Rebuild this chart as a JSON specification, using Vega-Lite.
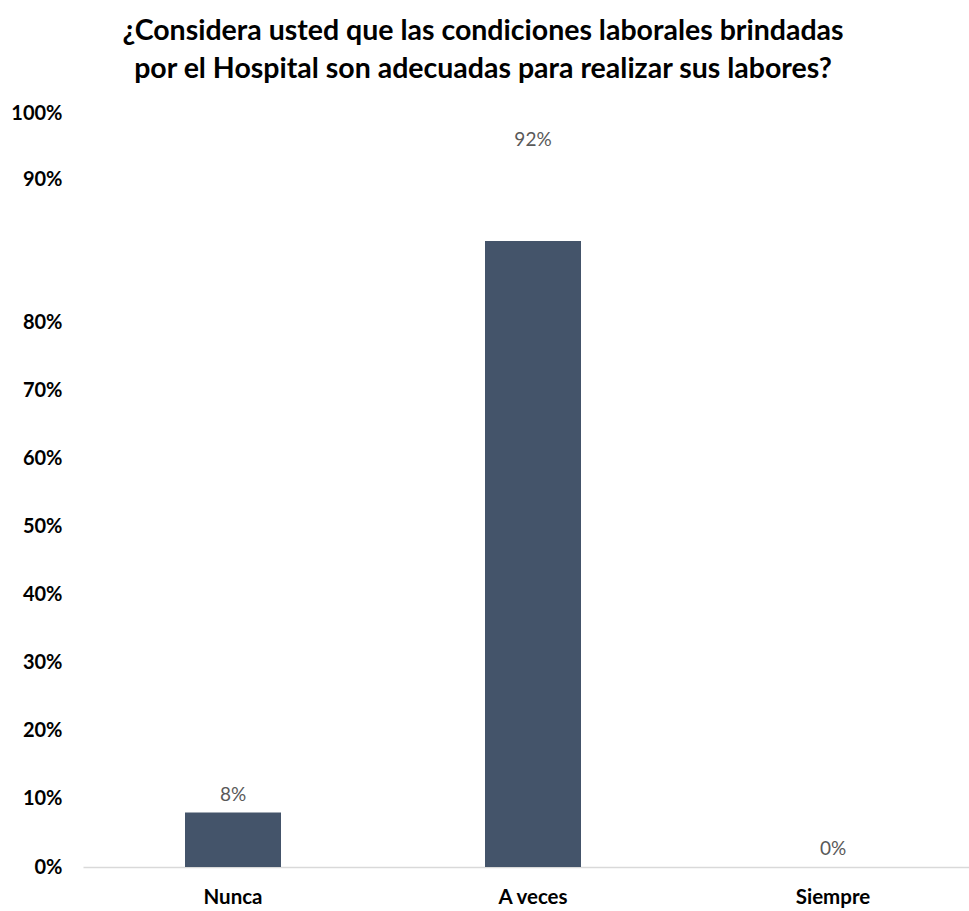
{
  "$schema": "https://vega.github.io/schema/vega-lite/v6.json",
  "autosize": "none",
  "width": 882,
  "height": 754,
  "padding": {"left": 83, "top": 113, "right": 4, "bottom": 44},
  "background": "white",
  "title": {
    "text": ["¿Considera usted que las condiciones laborales brindadas", "por el Hospital son adecuadas para realizar sus labores?"],
    "anchor": "middle",
    "frame": "group",
    "dx": -41,
    "offset": 20,
    "font": "Lato",
    "fontSize": 28.5,
    "fontWeight": "bold",
    "color": "#000000",
    "lineHeight": 38
  },
  "data": {
    "values": [
      {"respuesta": "Nunca", "pct": 8},
      {"respuesta": "A veces", "pct": 92},
      {"respuesta": "Siempre", "pct": 0}
    ]
  },
  "config": {
    "view": {"stroke": null},
    "axis": {"grid": false, "ticks": false}
  },
  "encoding": {
    "x": {
      "field": "respuesta",
      "type": "nominal",
      "sort": null,
      "scale": {"range": [0, 900], "paddingInner": 0.68, "paddingOuter": 0.34},
      "axis": {
        "title": null,
        "labelAngle": 0,
        "labelFont": "Lato",
        "labelFontSize": 20.5,
        "labelFontWeight": "bold",
        "labelColor": "#000000",
        "labelPadding": 20,
        "domainColor": "#D9D9D9",
        "domainWidth": 1.5
      }
    },
    "y": {
      "field": "pct",
      "type": "quantitative",
      "scale": {"domain": [0, 110.8], "nice": false},
      "axis": {
        "title": null,
        "domain": false,
        "values": [0, 10, 20, 30, 40, 50, 60, 70, 80, 101, 110.8],
        "labelExpr": "datum.value > 105 ? '100%' : datum.value > 95 ? '90%' : datum.value + '%'",
        "labelFont": "Lato",
        "labelFontSize": 20,
        "labelFontWeight": "bold",
        "labelColor": "#000000",
        "labelPadding": 21
      }
    }
  },
  "layer": [
    {"mark": {"type": "bar", "color": "#44546A"}},
    {
      "mark": {
        "type": "text",
        "baseline": "bottom",
        "font": "Lato",
        "fontSize": 19,
        "color": "#595959",
        "text": {"expr": "datum.pct + '%'"},
        "dy": {"expr": "datum.pct > 50 ? -91 : -8"}
      }
    }
  ]
}
